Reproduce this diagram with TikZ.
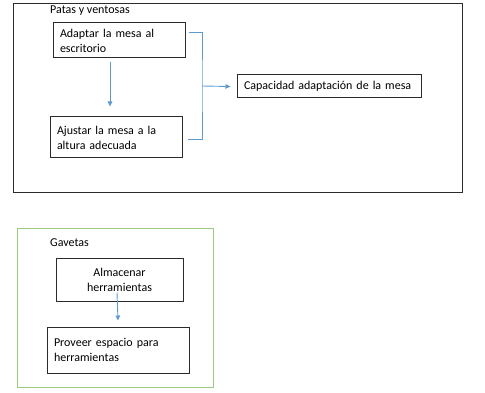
\documentclass[tikz,border=0pt]{standalone}
\usepackage{fontspec}
\setmainfont{Carlito}
\usepackage{tikz}
\usetikzlibrary{positioning, arrows.meta}
\definecolor{linkBlue}{HTML}{5B9BD5}
\definecolor{frameGreen}{HTML}{9CCB7E}
\definecolor{boxDark}{HTML}{2B2B2B}

\begin{document}
\begin{tikzpicture}[x=1pt, y=-1pt, font=\fontsize{12}{15}\selectfont,
  task/.style={draw=boxDark, line width=1pt, minimum width=132pt,
    minimum height=35pt, align=left, inner xsep=7pt, text width=118pt},
  title/.style={anchor=west, inner sep=0pt},
  link/.style={linkBlue, line width=0.9pt},
  arr/.style={link, -{Triangle[length=5pt, width=4.5pt]}}]

\useasboundingbox (0,0) rectangle (485,393);

\draw[boxDark, line width=0.9pt] (13,3) rectangle (462,192);
\node[title] (patas) at (50,11) {Patas y ventosas};

\node[task] (adaptar) at (119,40.5) {Adaptar la mesa al\\escritorio};
\node[task, minimum height=41pt] (ajustar) at (116,137.5)
  {Ajustar la mesa a la\\altura adecuada};
\node[task, minimum width=184pt, text width=170pt, minimum height=23pt]
  (capacidad) at (329,86.5) {Capacidad adaptación de la mesa};

\coordinate (join) at (202,86);

\draw[arr] ([xshift=-9pt, yshift=-4pt]adaptar.south)
  -- ([xshift=-6pt, yshift=10pt]ajustar.north);
\draw[link] ([xshift=3pt, yshift=8.5pt]adaptar.east) -| (join)
  |- ([xshift=5pt, yshift=-1.5pt]ajustar.east);
\draw[arr] (join) -- ([xshift=-6pt]capacidad.west);

\draw[frameGreen, line width=1pt] (17,228) rectangle (213,387);
\node[title] (gavetas) at (50,243) {Gavetas};

\node[task, minimum width=127pt, text width=113pt, minimum height=43pt,
  align=center] (almacenar) at (119.5,279.5) {Almacenar\\herramientas};
\node[task, minimum width=142pt, text width=128pt, minimum height=46pt]
  (proveer) at (118,350) {Proveer espacio para\\herramientas};

\draw[arr] ([xshift=-2.5pt, yshift=9pt]almacenar.south)
  -- ([yshift=6pt]proveer.north);

\end{tikzpicture}
\end{document}
